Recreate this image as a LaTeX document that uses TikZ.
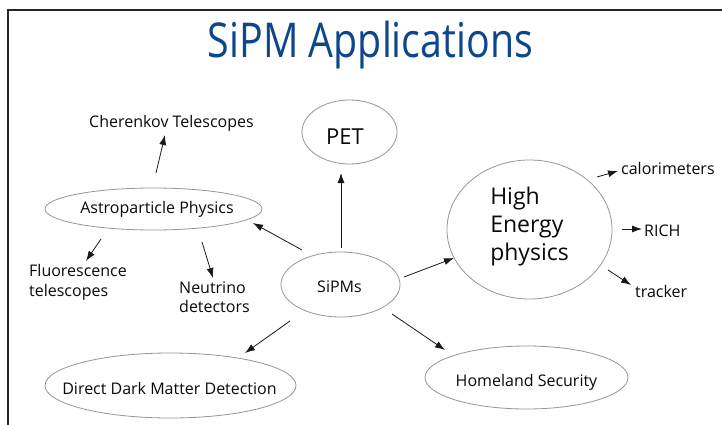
\documentclass[tikz,border=0pt]{standalone}
\usepackage{fontspec}
\setmainfont{Open Sans}
\usetikzlibrary{shapes.geometric,arrows.meta}
\definecolor{titleblue}{RGB}{12,70,140}
\definecolor{ellgray}{RGB}{150,150,150}
\definecolor{textblack}{RGB}{10,10,10}
\newcommand\fitbox[3]{\resizebox{#1pt}{#2pt}{\smash{#3}\rule{0pt}{1em}}}
\newcommand\vfix[3]{\raisebox{0pt}[#1pt][#2pt]{#3}}
\begin{document}
\begin{tikzpicture}[x=1pt,y=-1pt,
  ell/.style={ellipse, draw=ellgray, line width=0.8pt, inner sep=0pt, text=textblack,
              font=\fontsize{16}{20}\selectfont},
  lbl/.style={inner sep=0pt, text=textblack, font=\fontsize{16}{20}\selectfont},
  conn/.style={draw=black!90, line width=0.8pt, -{Latex[length=10pt,width=7pt]}},
  frameline/.style={draw=black!85, line width=2pt}
]
\useasboundingbox (0,0) rectangle (722,425);
\fill[white] (0,0) rectangle (722,425);
\coordinate (fbl) at (7.5,425);
\coordinate (ftl) at (7.5,10);
\coordinate (ftr) at (722,10);
\draw[frameline] (fbl) -- (ftl) -- (ftr);

% title
\node[inner sep=0pt, anchor=base, text=titleblue] (title) at (370.5,58)
  {\fitbox{325}{48}{SiPM Applications}};

% ellipses
\node[ell, minimum width=95pt, minimum height=64pt] (pet) at (349.5,132)
  {\fontsize{22}{26}\selectfont\vfix{24}{0}{\makebox[0pt]{PET\hspace*{9pt}}}};
\node[ell, minimum width=119pt, minimum height=65pt] (sipm) at (340.5,284.5)
  {\vfix{15}{0}{\makebox[0pt]{SiPMs\hspace*{2pt}}}};
\node[ell, minimum width=217pt, minimum height=42pt] (astro) at (153.5,209)
  {\vfix{8}{0}{\makebox[0pt]{\hspace*{7pt}Astroparticle Physics}}};
\node[ell, minimum width=165pt, minimum height=139pt] (hep) at (529.5,229.5)
  {\vfix{0}{51}{\fontsize{23}{28}\selectfont\begin{tabular}[t]{@{}l@{}}High\\Energy\\physics\end{tabular}}};
\node[ell, minimum width=251pt, minimum height=65pt] (ddm) at (170.5,385.5)
  {\vfix{17}{0}{\makebox[0pt]{Direct Dark Matter Detection\hspace*{2pt}}}};
\node[ell, minimum width=203pt, minimum height=63pt] (home) at (526.5,377.5)
  {\vfix{17}{0}{\makebox[0pt]{Homeland Security}}};

% plain labels
\node[lbl, anchor=base] (cher) at (171.5,128) {Cherenkov Telescopes};
\node[lbl, anchor=base west] (fluo) at (29,276)
  {\begin{tabular}[t]{@{}l@{}}Fluorescence\\telescopes\end{tabular}};
\node[lbl, anchor=base west, font=\fontsize{16}{19.5}\selectfont] (neut) at (179,293)
  {\begin{tabular}[t]{@{}l@{}}Neutrino\\detectors\end{tabular}};
\node[lbl, anchor=base west] (calo) at (621,174) {calorimeters};
\node[lbl, anchor=base west] (rich) at (644,236) {RICH};
\node[lbl, anchor=base west] (trk) at (635,297) {tracker};

% connector end points
\coordinate (astroTop) at (156,173);   \coordinate (cherIn) at (165,135);
\coordinate (astroBL) at (101,239);    \coordinate (fluoIn) at (86,261);
\coordinate (astroBR) at (202,242);    \coordinate (neutIn) at (213,278);
\coordinate (sipmUL) at (302,250);     \coordinate (astroIn) at (253,223);
\coordinate (sipmTop) at (341,248);    \coordinate (petIn) at (341,173);
\coordinate (sipmR) at (404,277);      \coordinate (hepIn) at (454,258);
\coordinate (hepUR) at (597,177);      \coordinate (caloIn) at (618,171);
\coordinate (hepR) at (622,229);       \coordinate (richIn) at (642,229);
\coordinate (hepLR) at (608,270);      \coordinate (trkIn) at (631,285);
\coordinate (sipmLL) at (290,321);     \coordinate (ddmIn) at (245,353);
\coordinate (sipmLR) at (392,314);     \coordinate (homeIn) at (445,350);

\draw[conn] (astroTop) -- (cherIn);
\draw[conn] (astroBL) -- (fluoIn);
\draw[conn] (astroBR) -- (neutIn);
\draw[conn] (sipmUL) -- (astroIn);
\draw[conn] (sipmTop) -- (petIn);
\draw[conn] (sipmR) -- (hepIn);
\draw[conn] (hepUR) -- (caloIn);
\draw[conn] (hepR) -- (richIn);
\draw[conn] (hepLR) -- (trkIn);
\draw[conn] (sipmLL) -- (ddmIn);
\draw[conn] (sipmLR) -- (homeIn);
\end{tikzpicture}
\end{document}
